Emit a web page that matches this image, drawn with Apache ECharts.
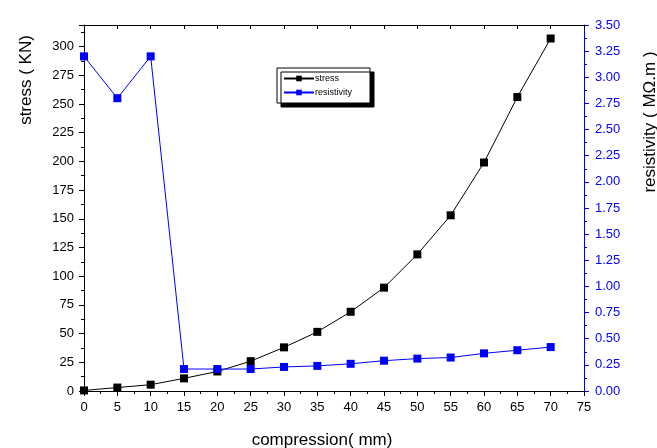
<!DOCTYPE html>
<html>
<head>
<meta charset="utf-8">
<script src="https://cdn.jsdelivr.net/npm/echarts@6/dist/echarts.min.js"></script>
<style>html,body{margin:0;padding:0;background:#fff;}#c{width:657px;height:448px;}</style>
</head>
<body>
<div id="c"></div>
<script>
var compression = [0, 5, 10, 15, 20, 25, 30, 35, 40, 45, 50, 55, 60, 65, 70];
var stress = [0.5, 3, 5.5, 11, 17, 26, 38, 51.5, 69, 90, 119, 153, 199, 256, 307];
var resistivity = [3.2, 2.8, 3.2, 0.21, 0.21, 0.21, 0.23, 0.24, 0.26, 0.29, 0.31, 0.32, 0.36, 0.39, 0.42];

var font = 'Liberation Sans, Arial, sans-serif';
var chart = echarts.init(document.getElementById('c'));
function pairs(xs, ys){ return xs.map(function(x,i){ return [x, ys[i]]; }); }

chart.setOption({
  backgroundColor: '#fff',
  animation: false,
  grid: {left: 84, right: 73, top: 25, bottom: 57},
  legend: {
    left: 277, top: 68, orient: 'vertical',
    backgroundColor: '#fff', borderColor: '#000', borderWidth: 1, borderRadius: 0,
    shadowColor: '#000', shadowBlur: 0, shadowOffsetX: 4, shadowOffsetY: 4,
    padding: [6, 18, 6, 6], itemGap: 5, itemWidth: 30, itemHeight: 7,
    textStyle: {fontFamily: font, fontSize: 9, color: '#000', padding: [0,0,0,-4]},
    data: ['stress', 'resistivity']
  },
  xAxis: [{
    type: 'value', min: 0, max: 75, interval: 5, position: 'bottom',
    axisLine: {show: true, onZero: false, lineStyle: {color: '#000', width: 1}},
    axisTick: {show: true, length: 5, inside: false, lineStyle: {color: '#000'}},
    minorTick: {show: true, splitNumber: 2, length: 3, lineStyle: {color: '#000'}},
    splitLine: {show: false},
    axisLabel: {fontFamily: font, fontSize: 13, color: '#000', margin: 10}
  }, {
    type: 'value', min: 0, max: 75, interval: 5, position: 'top',
    axisLine: {show: true, onZero: false, lineStyle: {color: '#000', width: 1}},
    axisTick: {show: true, length: 4, inside: true, lineStyle: {color: '#000'}},
    splitLine: {show: false},
    axisLabel: {show: false}
  }],
  yAxis: [{
    type: 'value', min: 0, max: 318.75, interval: 25, position: 'left',
    axisLine: {show: true, onZero: false, lineStyle: {color: '#000', width: 1}},
    axisTick: {show: true, length: 5, lineStyle: {color: '#000'}},
    minorTick: {show: true, splitNumber: 2, length: 3, lineStyle: {color: '#000'}},
    splitLine: {show: false},
    axisLabel: {fontFamily: font, fontSize: 13, color: '#000', margin: 10, showMaxLabel: false}
  }, {
    type: 'value', min: 0, max: 3.5, interval: 0.25, position: 'right',
    axisLine: {show: true, onZero: false, lineStyle: {color: '#0000ff', width: 1}},
    axisTick: {show: true, length: 5, lineStyle: {color: '#0000ff'}},
    minorTick: {show: true, splitNumber: 2, length: 3, lineStyle: {color: '#0000ff'}},
    splitLine: {show: false},
    axisLabel: {fontFamily: font, fontSize: 13, color: '#0000ff', margin: 11,
      formatter: function(v){ return v.toFixed(2); }}
  }],
  series: [{
    name: 'stress', type: 'line', xAxisIndex: 0, yAxisIndex: 0,
    data: pairs(compression, stress),
    symbol: 'rect', symbolSize: 8,
    lineStyle: {color: '#000', width: 1}, itemStyle: {color: '#000'}
  }, {
    name: 'resistivity', type: 'line', xAxisIndex: 0, yAxisIndex: 1,
    data: pairs(compression, resistivity),
    symbol: 'rect', symbolSize: 8,
    lineStyle: {color: '#0000ff', width: 1}, itemStyle: {color: '#0000ff'}
  }],
  graphic: [{
    type: 'text', x: 26, y: 80, rotation: Math.PI/2,
    style: {text: 'stress ( KN)', fontFamily: font, fontSize: 17, fill: '#000', align: 'center', verticalAlign: 'middle'}
  }, {
    type: 'text', x: 650, y: 122, rotation: Math.PI/2,
    style: {text: 'resistivity ( MΩ.m )', fontFamily: font, fontSize: 17, fill: '#000', align: 'center', verticalAlign: 'middle'}
  }, {
    type: 'text', x: 322, y: 440,
    style: {text: 'compression( mm)', fontFamily: font, fontSize: 17, fill: '#000', align: 'center', verticalAlign: 'middle'}
  }]
});
</script>
</body>
</html>
